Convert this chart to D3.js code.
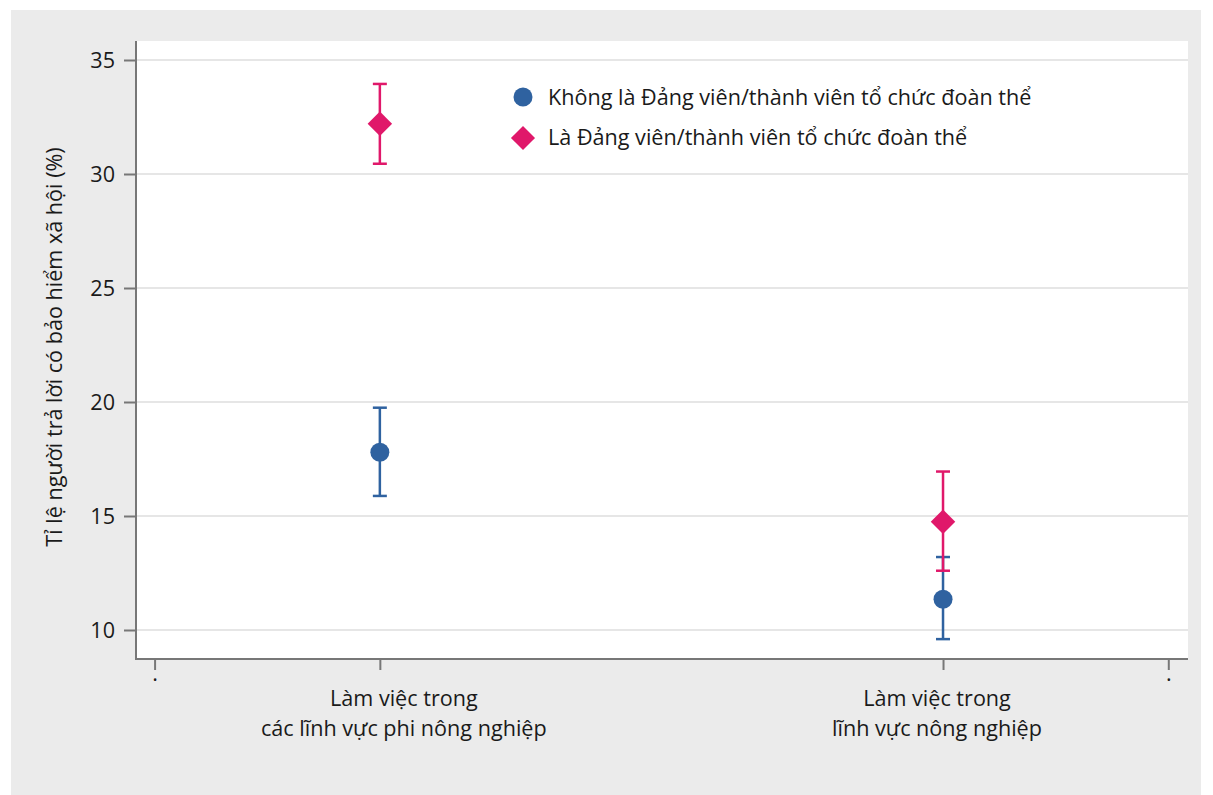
<!DOCTYPE html>
<html><head><meta charset="utf-8">
<script src="https://cdn.jsdelivr.net/npm/d3@7"></script>
<style>body{margin:0;background:#fff}svg{display:block}text{font-family:"Open Sans","Noto Sans",sans-serif;fill:#1a1a1a}</style>
</head><body>
<svg id="c" width="1213" height="795"></svg>
<script>
const categories = ["Làm việc trong\ncác lĩnh vực phi nông nghiệp", "Làm việc trong\nlĩnh vực nông nghiệp"];
const catPos = [1, 2];
const seriesNames = ["Không là Đảng viên/thành viên tổ chức đoàn thể", "Là Đảng viên/thành viên tổ chức đoàn thể"];
const nonMemberMean = [17.8, 11.35];
const nonMemberLow = [15.88, 9.6];
const nonMemberHigh = [19.75, 13.2];
const memberMean = [32.2, 14.75];
const memberLow = [30.45, 12.6];
const memberHigh = [33.95, 16.95];
const yTicks = [10, 15, 20, 25, 30, 35];
const xTicks = [0.6, 1, 2, 2.4];
const colors = ["#2f62a0", "#e0186a"];
const FS = 21.6;

const svg = d3.select("#c");
svg.append("rect").attr("x",11).attr("y",10).attr("width",1190).attr("height",785).attr("fill","#ebebeb");
const L=136, R=1188, T=41, B=659;
svg.append("rect").attr("x",L).attr("y",T).attr("width",R-L).attr("height",B-T).attr("fill","#fff");

const x = d3.scaleLinear().domain([0.567, 2.435]).range([L, R]);
const y = d3.scaleLinear().domain([10, 35]).range([630, 60]);

// grid
svg.append("g").selectAll("line").data(yTicks).join("line")
  .attr("x1",L).attr("x2",R).attr("y1",d=>y(d)).attr("y2",d=>y(d))
  .attr("stroke","#dedede").attr("stroke-width",1.5);

// y axis
const ya = svg.append("g").attr("transform",`translate(${L},0)`)
  .call(d3.axisLeft(y).tickValues(yTicks).tickSize(12).tickPadding(9));
ya.select(".domain").remove();
ya.selectAll(".tick line").attr("stroke","#777").attr("stroke-width",2);
ya.selectAll(".tick text").attr("font-size",FS).style("fill","#1a1a1a").attr("dy","0.35em");
svg.append("line").attr("x1",L).attr("x2",L).attr("y1",T).attr("y2",B+1).attr("stroke","#777").attr("stroke-width",2);

// x axis
const xa = svg.append("g").attr("transform",`translate(0,${B})`)
  .call(d3.axisBottom(x).tickValues(xTicks).tickSize(11).tickFormat(d => (d===1||d===2) ? "" : "."));
xa.select(".domain").remove();
xa.selectAll(".tick line").attr("stroke","#777").attr("stroke-width",2);
xa.selectAll(".tick text").attr("font-size",FS).attr("y",22).attr("dy",0).style("fill","#1a1a1a");
svg.append("line").attr("x1",L-1).attr("x2",R).attr("y1",B).attr("y2",B).attr("stroke","#777").attr("stroke-width",2);

// category labels
categories.forEach((c,i)=>{
  const t = svg.append("text").attr("text-anchor","middle").attr("font-size",FS);
  c.split("\n").forEach((ln,j)=>{
    t.append("tspan").attr("x", x(catPos[i]) + (i===0?24:-6)).attr("y", 706 + j*30).text(ln);
  });
});

// y title
svg.append("text").attr("transform",`translate(62,${(T+B)/2-3}) rotate(-90)`)
  .attr("text-anchor","middle").attr("font-size",FS).text("Tỉ lệ người trả lời có bảo hiểm xã hội (%)");

// error bars
function drawSeries(mean, low, high, color, shape){
  const g = svg.append("g");
  catPos.forEach((cp,i)=>{
    const cx = x(cp);
    g.append("line").attr("x1",cx).attr("x2",cx).attr("y1",y(low[i])).attr("y2",y(high[i])).attr("stroke",color).attr("stroke-width",2.5);
    [low[i],high[i]].forEach(v=>g.append("line").attr("x1",cx-7).attr("x2",cx+7).attr("y1",y(v)).attr("y2",y(v)).attr("stroke",color).attr("stroke-width",2.5));
    if(shape==="circle") g.append("circle").attr("cx",cx).attr("cy",y(mean[i])).attr("r",9.5).attr("fill",color);
    else g.append("path").attr("d",d3.symbol(d3.symbolSquare, 300)()).attr("transform",`translate(${cx},${y(mean[i])}) rotate(45)`).attr("fill",color);
  });
}
drawSeries(nonMemberMean, nonMemberLow, nonMemberHigh, colors[0], "circle");
drawSeries(memberMean, memberLow, memberHigh, colors[1], "diamond");

// legend
const lg = svg.append("g");
lg.append("circle").attr("cx",523).attr("cy",97).attr("r",9.5).attr("fill",colors[0]);
lg.append("path").attr("d",d3.symbol(d3.symbolSquare, 290)()).attr("transform","translate(523,138) rotate(45)").attr("fill",colors[1]);
lg.append("text").attr("x",548).attr("y",105).attr("font-size",FS).text(seriesNames[0]);
lg.append("text").attr("x",548).attr("y",145).attr("font-size",FS).text(seriesNames[1]);
</script>
</body></html>
